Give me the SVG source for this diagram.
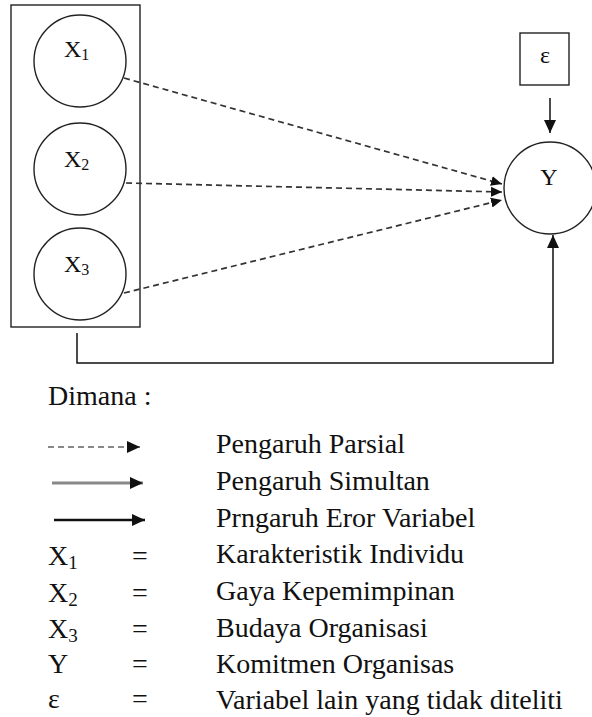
<svg xmlns="http://www.w3.org/2000/svg" width="592" height="717" viewBox="0 0 592 717">
<style>
.shape{fill:none;stroke:#222;stroke-width:1.4}
.lbl{font-family:"Liberation Serif","Times New Roman",serif;fill:#111}
.node{font-size:24px}
.leg{font-size:28px}
.dash{fill:none;stroke:#333;stroke-width:1.7;stroke-dasharray:6 4}
.solid{fill:none;stroke:#111;stroke-width:1.5}
</style>
<defs>
<marker id="ah" markerUnits="userSpaceOnUse" markerWidth="12" markerHeight="12" refX="11" refY="6" orient="auto">
<path d="M0,1 L11,6 L0,11 Z" fill="#111"/>
</marker>
<marker id="ahL" markerUnits="userSpaceOnUse" markerWidth="14" markerHeight="14" refX="13" refY="7" orient="auto">
<path d="M0,1 L13,7 L0,13 Z" fill="#111"/>
</marker>
<marker id="ahG" markerUnits="userSpaceOnUse" markerWidth="14" markerHeight="14" refX="13" refY="7" orient="auto">
<path d="M0,1 L13,7 L0,13 Z" fill="#111"/>
</marker>
</defs>
<rect id="group-x" class="shape" x="11" y="5" width="129" height="322"/>
<g id="x1"><circle class="shape" cx="80" cy="61" r="46"/><text class="lbl node" x="64" y="57">X<tspan font-size="16" dy="3">1</tspan></text></g>
<g id="x2"><circle class="shape" cx="80" cy="169" r="46"/><text class="lbl node" x="64" y="167">X<tspan font-size="16" dy="3">2</tspan></text></g>
<g id="x3"><circle class="shape" cx="80" cy="274" r="46"/><text class="lbl node" x="64" y="272">X<tspan font-size="16" dy="3">3</tspan></text></g>
<g id="y"><circle class="shape" cx="550" cy="188" r="46"/><text class="lbl node" x="549" y="185" text-anchor="middle">Y</text></g>
<g id="eps"><rect class="shape" x="520" y="33" width="49" height="52"/><text class="lbl node" x="545" y="63" text-anchor="middle">ε</text></g>
<g id="connectors">
<path class="dash" d="M124,78 L502,184" marker-end="url(#ah)"/>
<path class="dash" d="M126,183 L502,192" marker-end="url(#ah)"/>
<path class="dash" d="M124,293 L502,200" marker-end="url(#ah)"/>
<path class="solid" d="M550,98 L550,133" marker-end="url(#ahL)"/>
<path class="solid" d="M77,333 L77,363 L553,363 L553,235" marker-end="url(#ahL)"/>
</g>
<g id="legend">
<text class="lbl leg" x="48" y="405">Dimana :</text>
<path d="M48,447 L140,447" fill="none" stroke="#888" stroke-width="2" stroke-dasharray="6 4" marker-end="url(#ahG)"/>
<path d="M52,483 L143,483" fill="none" stroke="#888" stroke-width="3" marker-end="url(#ahG)"/>
<path d="M54,520 L145,520" fill="none" stroke="#111" stroke-width="2.6" marker-end="url(#ahG)"/>
<text class="lbl leg" x="216" y="453">Pengaruh Parsial</text>
<text class="lbl leg" x="216" y="490">Pengaruh Simultan</text>
<text class="lbl leg" x="216" y="527">Prngaruh Eror Variabel</text>
<text class="lbl leg" x="48" y="565">X<tspan font-size="19" dy="4">1</tspan></text>
<text class="lbl leg" x="48" y="602">X<tspan font-size="19" dy="4">2</tspan></text>
<text class="lbl leg" x="48" y="638">X<tspan font-size="19" dy="4">3</tspan></text>
<text class="lbl leg" x="48" y="673">Y</text>
<text class="lbl leg" x="48" y="708">ε</text>
<text class="lbl leg" x="140" y="565" text-anchor="middle">=</text>
<text class="lbl leg" x="140" y="602" text-anchor="middle">=</text>
<text class="lbl leg" x="140" y="638" text-anchor="middle">=</text>
<text class="lbl leg" x="140" y="673" text-anchor="middle">=</text>
<text class="lbl leg" x="140" y="708" text-anchor="middle">=</text>
<text class="lbl leg" x="216" y="563">Karakteristik Individu</text>
<text class="lbl leg" x="216" y="600">Gaya Kepemimpinan</text>
<text class="lbl leg" x="216" y="637">Budaya Organisasi</text>
<text class="lbl leg" x="216" y="673">Komitmen Organisas</text>
<text class="lbl leg" x="216" y="709">Variabel lain yang tidak diteliti</text>
</g>
</svg>
